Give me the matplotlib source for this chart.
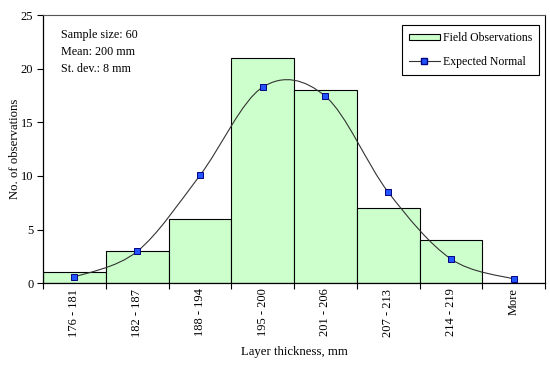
import numpy as np
import matplotlib
matplotlib.use('Agg')
import matplotlib.pyplot as plt
from matplotlib.path import Path
from matplotlib.patches import PathPatch, Patch
from matplotlib.lines import Line2D
from matplotlib.ticker import FixedLocator

plt.rcParams['font.family'] = ['Liberation Serif', 'DejaVu Serif']
plt.rcParams['font.size'] = 8.7

# histogram data
categories = ['176 - 181', '182 - 187', '188 - 194', '195 - 200',
              '201 - 206', '207 - 213', '214 - 219', 'More']
observed = [1, 3, 6, 21, 18, 7, 4, 0]
expected = [0.55, 2.95, 10.05, 18.3, 17.45, 8.5, 2.25, 0.37]
stats_lines = ['Sample size: 60', 'Mean: 200 mm', 'St. dev.: 8 mm']

fig = plt.figure(figsize=(5.5, 3.67), dpi=100)
ax = fig.add_axes([43 / 550, 1 - 283 / 367, (545 - 43) / 550, (283 - 15.5) / 367])

x = np.arange(len(categories))
ax.bar(x, observed, width=1.0, color='#CCFFCC', edgecolor='black', linewidth=0.8, zorder=2)

# smoothed line (Excel style bezier through the points)
pts = np.column_stack([x, expected]).astype(float)
verts = [tuple(pts[0])]
codes = [Path.MOVETO]
n = len(pts)
for i in range(n - 1):
    p0 = pts[max(i - 1, 0)]
    p1 = pts[i]
    p2 = pts[i + 1]
    p3 = pts[min(i + 2, n - 1)]
    c1 = p1 + (p2 - p0) / 6
    c2 = p2 - (p3 - p1) / 6
    verts += [tuple(c1), tuple(c2), tuple(p2)]
    codes += [Path.CURVE4] * 3
ax.add_patch(PathPatch(Path(verts, codes), facecolor='none', edgecolor='#333333',
                       linewidth=0.8, zorder=3))
ax.plot(x, expected, linestyle='none', marker='s', markersize=4.5,
        markerfacecolor='#2255FF', markeredgecolor='#000080', markeredgewidth=0.7, zorder=4)

ax.set_xlim(-0.5, len(categories) - 0.5)
ax.set_ylim(0, 25)
ax.set_yticks([0, 5, 10, 15, 20, 25])

# ticks at category boundaries, labels at centres
ax.xaxis.set_major_locator(FixedLocator(np.arange(len(categories) + 1) - 0.5))
ax.xaxis.set_major_formatter(plt.NullFormatter())
ax.xaxis.set_minor_locator(FixedLocator(x))
ax.set_xticklabels(categories, minor=True, rotation=90, fontsize=9)
ax.tick_params(axis='x', which='major', direction='out', length=4, width=0.8)
ax.tick_params(axis='x', which='minor', length=0, pad=4)
ax.tick_params(axis='y', direction='out', length=4, width=0.8, pad=3, labelsize=9)

for side in ['left', 'bottom']:
    ax.spines[side].set_linewidth(0.9)
ax.spines['top'].set_color('#555555')
ax.spines['top'].set_linewidth(0.8)
ax.spines['right'].set_linewidth(0.8)

ax.set_xlabel('Layer thickness, mm', fontsize=9.2, va='center')
ax.set_ylabel('No. of observations', fontsize=9.2, va='center')
ax.xaxis.set_label_coords(0.5, -(352 - 283) / 267.5)
ax.yaxis.set_label_coords(-(43 - 15) / 502, 0.5)

for i, s in enumerate(stats_lines):
    fig.text(61 / 550, 1 - (35 + 17 * i) / 367, s, va='center', ha='left')

handles = [Patch(facecolor='#CCFFCC', edgecolor='black', linewidth=0.8),
           Line2D([], [], color='#333333', linewidth=0.8, marker='s', markersize=4.5,
                  markerfacecolor='#2255FF', markeredgecolor='#000080')]
leg = fig.legend(handles, ['Field Observations', 'Expected Normal'],
                 loc='upper right', bbox_to_anchor=(539 / 550, 1 - 25 / 367),
                 frameon=True, fancybox=False, edgecolor='black', framealpha=1,
                 fontsize=8.5, handlelength=2.6, handleheight=0.35, borderpad=0.6,
                 labelspacing=1.0, handletextpad=0.25, borderaxespad=0)
leg.get_frame().set_linewidth(0.8)

fig.savefig('out.png', dpi=100)
